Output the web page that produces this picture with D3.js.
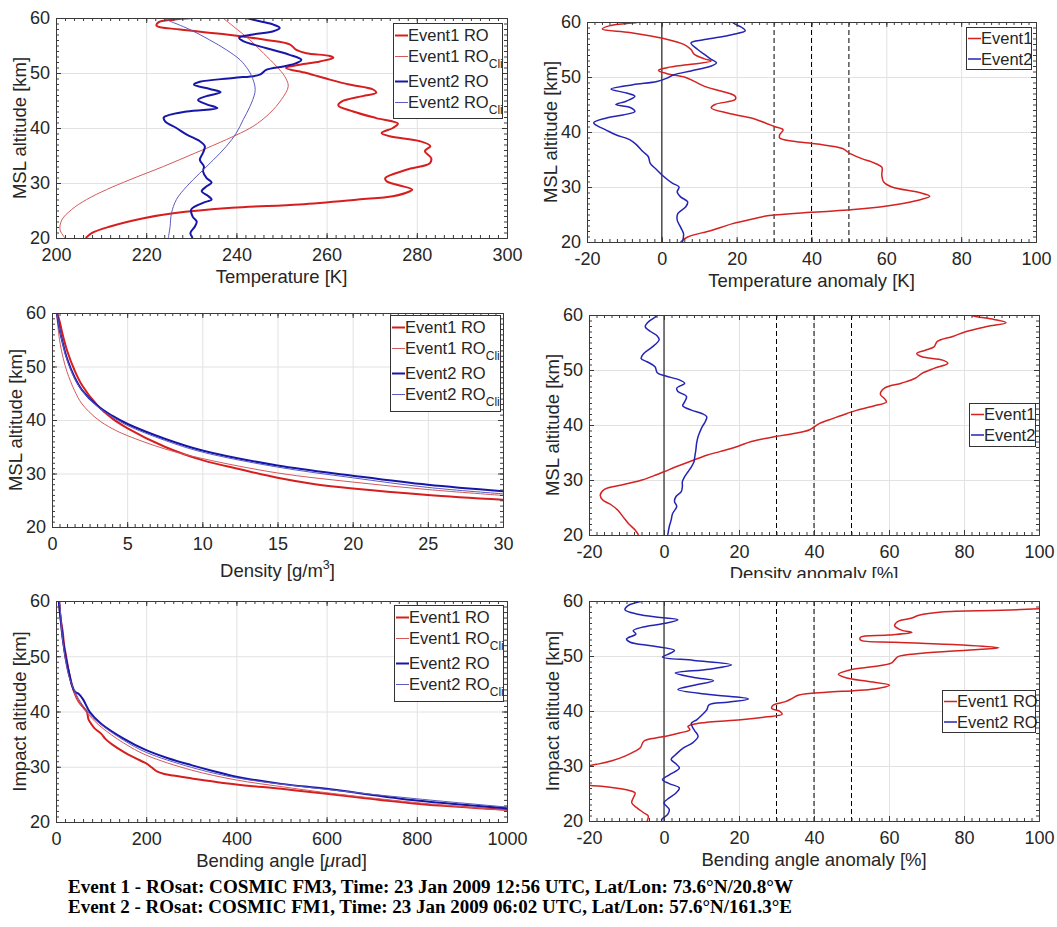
<!DOCTYPE html>
<html>
<head>
<meta charset="utf-8">
<script src="https://cdn.jsdelivr.net/npm/d3@7"></script>
<style>
body { margin: 0; background: #fff; }
svg { display: block; }
text { font-family: "Liberation Sans", Arial, Helvetica, sans-serif; fill: #262626; }
</style>
</head>
<body>
<svg id="fig" width="1057" height="927"></svg>
<script>
// ---------- data: [value, altitude km] ----------
var tempEv1Ro = [[206.6,20],[207.9,20.9],[212,22.1],[219.4,23.6],[226,24.5],[239,25.5],[254,26.1],[267,27],[274.7,27.6],[278.5,28.5],[279,28.8],[276,29.6],[273.3,30.3],[273,30.9],[277.7,32.4],[282.9,33.6],[283.2,34.5],[281.8,35.8],[283,36.7],[280.7,37.6],[274,38.5],[272.2,39.1],[274.7,40],[275.8,40.8],[271,41.8],[265.9,43],[262.6,44.1],[263.3,44.8],[268,45.8],[271,46.4],[270.3,47],[265,47.9],[260.7,48.8],[255.5,50],[251,50.9],[254,51.5],[258.5,52.1],[261.5,52.8],[260.7,53.1],[255.5,53.6],[253.3,54.2],[251.8,55.2],[246.7,56],[237.8,57],[227.5,57.9],[222.3,58.6],[222.7,59.2],[226,59.7],[230.4,60]];
var tempEv1Cli = [[202,20],[200.9,21.5],[201.3,23.3],[203.5,25.2],[206.8,27],[211.2,28.8],[216.4,30.6],[223.8,33],[231,35.5],[237.8,37.9],[243.7,40.3],[247.4,42.7],[250,45.2],[251.5,47.6],[250.7,49.4],[248.9,51.2],[246,53.6],[243,56],[239.3,58.5],[237,60]];
var tempEv2Ro = [[230.3,20],[229.8,20.9],[230.8,22.1],[231.2,23],[230.3,23.9],[230,25.2],[232.6,26.4],[234.5,27],[233.8,27.6],[232.3,28.5],[233.4,29.4],[234.5,30.1],[233.4,30.9],[232.6,32.1],[232.8,33],[231.9,34.2],[232.6,35.5],[233,36.7],[231.9,37.6],[229,38.8],[226.7,40],[224.2,41.2],[223.9,41.9],[229,43],[235.8,43.6],[233.4,44.3],[231.5,45.1],[233.4,45.8],[236.5,46.5],[234.1,47.1],[230.6,47.9],[231.9,48.4],[239.3,49.1],[245.2,49.7],[246.7,50.6],[250.4,51.2],[253.3,51.8],[254.4,52.4],[251.8,53.3],[246.7,54.5],[241.5,55.8],[240.6,56.4],[243.7,57],[248.2,57.6],[249.6,58.2],[248.2,58.8],[245.2,59.4],[242.2,60]];
var tempEv2Cli = [[224.9,20],[225.3,22.1],[225.6,24.5],[226.7,27],[229,29.4],[231.9,31.8],[234.9,34.2],[237.8,36.7],[240,39.1],[241.5,41.5],[243,43.9],[244.1,46.4],[244.1,47.6],[243.4,49.4],[242.6,50.6],[240.8,52.4],[237.8,54.2],[234.1,56],[229.7,57.9],[224.5,59.7],[223.8,60]];

var tAnomEv1 = [[5,20],[6.9,20.9],[13.2,22.1],[18.7,23.3],[24.2,24.2],[28.7,24.8],[39.7,25.4],[49.7,25.8],[60.6,26.6],[67.9,27.5],[71.6,28.3],[68.8,29],[61.5,30],[59.3,30.9],[58.8,32.1],[58.8,33.6],[57,34.3],[53.3,35.2],[50.2,36.1],[48.3,37],[41.5,37.8],[35.1,38.3],[31.5,38.9],[31.5,39.5],[32.4,40.4],[30.1,41],[27.8,41.6],[24.2,42.5],[17.8,43.4],[13.2,44.4],[14.2,45],[19.6,45.9],[19.6,46.5],[16,47.4],[11.4,48.3],[8.7,49.2],[6,50],[1.4,50.6],[-0.9,51.2],[1.4,51.7],[7.8,52.3],[13.2,52.9],[11.4,53.3],[8.7,54.1],[7.8,55],[6,55.9],[0.5,57],[-8.6,58.1],[-15.9,58.7],[-14.1,59.3],[-6.8,59.9],[-5.9,60]];
var tAnomEv2 = [[5.5,20],[5.8,21.5],[5,22.7],[4.1,24],[4.3,25.2],[6.4,26.4],[6.9,27.3],[5,28.2],[4.1,29.1],[4.6,30],[2.8,30.7],[0.5,31.9],[-1.3,33.1],[-3.1,34.3],[-3.6,35.5],[-5,36.4],[-6.8,37.7],[-8.6,38.6],[-12.3,39.5],[-15,40.4],[-17.7,41.3],[-18.2,41.7],[-15,42.5],[-10.4,43.1],[-7.2,43.7],[-8.6,44.5],[-12.3,45],[-9.5,45.6],[-7.2,46.5],[-9.5,47.1],[-13.6,47.8],[-7.7,48.6],[-1.3,49.2],[1.4,49.8],[3.2,50.4],[7.8,51.1],[13.2,52],[14.6,52.6],[13.2,53.2],[11.4,54.1],[9.6,55],[7.8,56.2],[11.4,56.8],[18.7,57.7],[22.3,58.4],[21.4,59],[19.6,59.6],[18.7,60]];

var densEv1Ro = [[0.35,60],[0.5,58.5],[0.75,55.5],[1,53],[1.5,49.3],[2,46.5],[3,42.8],[4,40.3],[5,38.5],[7.5,35],[10,32.5],[12.5,30.8],[15,29.2],[17.5,28],[20,27.2],[25,26],[30,25.1]];
var densEv1Cli = [[0.3,60],[0.5,55],[0.75,51.5],[1,49],[1.5,45.5],[2,43],[3,40.2],[4,38.4],[5,37.1],[7.5,34.6],[10,32.8],[15,30.1],[20,28.4],[25,27],[30,25.9]];
var densEv2Ro = [[0.33,60],[0.5,57],[0.75,54],[1,51.5],[1.5,48],[2,45.6],[3,42.7],[4,40.8],[5,39.3],[7.5,36.5],[10,34.3],[15,31.5],[20,29.6],[25,27.9],[30,26.7]];
var densEv2Cli = [[0.33,60],[0.5,57],[0.75,53.8],[1,51.2],[1.5,47.8],[2,45.5],[3,42.6],[4,40.6],[5,39],[7.5,36.2],[10,34],[15,31.2],[20,29.2],[25,27.4],[30,26.2]];

var dAnomEv1 = [[-6.8,20],[-7.7,20.9],[-9.5,22.1],[-10.9,23.3],[-12.3,24.5],[-14.1,25.5],[-16.4,26.4],[-17,27.3],[-15.9,28.3],[-11.3,29.1],[-5.9,30],[-2.2,30.9],[0,31.5],[3.2,32.4],[7.8,33.6],[11.4,34.5],[15.1,35.2],[19.6,36.1],[23.3,37],[29.7,37.9],[35.1,38.5],[38.7,39.1],[40.1,39.7],[41.5,40.3],[45.1,41.2],[48.8,42.1],[51.5,42.7],[56.1,43.5],[59.3,44.2],[58.8,44.8],[57.7,45.6],[58.8,46.7],[63.3,47.6],[67,48.5],[68.8,49.4],[72,50.3],[75.7,51.2],[74.3,51.8],[68.8,52.4],[67.4,53],[69.7,53.6],[72,54.2],[72.9,55.2],[77,56.1],[80.6,57],[86.1,57.9],[91.2,58.6],[88,59.2],[83.4,59.7],[81.6,60]];
var dAnomEv2 = [[1,20],[1.4,21.5],[1.9,22.7],[2.3,23.9],[3.4,25.2],[2.8,26.1],[3.2,27],[4.6,27.9],[4.9,28.8],[4.9,29.7],[5.5,30.6],[6.4,31.5],[7.3,32.4],[8,33.3],[8.2,34.2],[8.5,35.5],[8.7,36.7],[9.1,37.9],[9.6,38.8],[10.2,39.7],[11,40.6],[11.4,41.5],[10.1,42.1],[7.3,42.7],[5,43.5],[5.5,44.2],[6,45.2],[3.7,46.1],[3.4,46.7],[5.5,47.6],[4.1,48.2],[0.5,48.9],[-1.8,49.5],[-2.4,50.6],[-4.5,51.5],[-6.1,52.1],[-5.4,53],[-3.1,54.2],[-1.3,55.5],[-1.8,56.2],[-3.6,57],[-5,57.9],[-4.1,58.8],[-2.2,59.7],[-1.8,60]];

var bendEv1Ro = [[7,60],[10,57],[15,54.4],[18,52],[22,50.2],[30,46.6],[40,43.6],[50,41.8],[62,40.6],[68,40],[70,39.4],[72,38.6],[76,38],[85,37],[100,36],[110,35],[125,34],[150,32.7],[175,31.6],[200,30.6],[212,29.9],[225,29.1],[240,28.7],[260,28.4],[300,27.9],[400,26.8],[500,26],[600,25.1],[800,23.3],[1000,22.2]];
var bendEv1Cli = [[8,60],[10,57.5],[12,54.4],[16,52],[20,49.6],[30,46],[50,41.8],[75,39.2],[100,37.2],[150,34.3],[200,32.1],[300,29.4],[400,27.6],[500,26.4],[600,25.3],[800,23.5],[1000,22.1]];
var bendEv2Ro = [[6,60],[10,56.9],[15,53.2],[22,49.6],[30,46.6],[35,44.8],[42,43.6],[50,43.2],[60,42.2],[75,39.9],[100,37.8],[150,35.1],[200,33],[250,31.5],[300,30.3],[350,29.2],[400,28.2],[500,26.9],[600,26],[800,23.9],[1000,22.5]];
var bendEv2Cli = [[8,60],[10,58],[13,54.4],[18,51],[22,49],[30,46],[50,42.3],[75,39.5],[100,37.6],[150,34.8],[200,32.6],[300,29.9],[400,28],[600,25.9],[800,24.2],[1000,22.7]];

var bAnomEv1 = [[-4.5,20],[-4.2,20.9],[-5.4,21.5],[-7.2,22.4],[-8.6,23.3],[-8.2,24.2],[-7.7,25.1],[-9.5,25.6],[-15,26.2],[-20,26.5],[-24,27],[-27,28],[-26,29],[-22,29.8],[-18,30.3],[-14.1,30.9],[-10.4,31.8],[-7.7,32.7],[-6.3,33.3],[-5.4,34.5],[-2.2,35.1],[0.5,35.4],[4.1,36],[6.9,36.6],[6.4,37.2],[9.6,37.8],[20.5,38.4],[26.9,38.9],[31.5,39.4],[31,39.9],[28.7,40.5],[29.2,41.1],[32.4,41.7],[34.2,42.3],[36,42.9],[43.3,43.4],[50.6,43.7],[56,44],[60.1,44.7],[54.2,45.4],[48.8,46],[46.5,46.7],[49.7,47.5],[56,48.1],[60.6,48.7],[61.5,49.3],[62.4,49.9],[68.8,50.5],[81.6,51.1],[89.3,51.5],[79.8,52],[61.5,52.5],[52.4,52.9],[52.4,53.4],[59.7,53.8],[66.1,54.3],[63.3,54.7],[61.5,55.5],[62.4,56.3],[66.1,56.9],[68,57.4],[74,58],[90,58.3],[100,58.6],[110,59],[108,59.6],[91,60]];
var bAnomEv2 = [[-0.6,20],[-0.6,20.3],[1,21.2],[1.4,22.1],[0,23.3],[1.4,24.2],[3.2,25.1],[4.1,26],[1.4,26.8],[-0.4,27.5],[1.4,28.4],[4.1,29.6],[3.2,30.4],[1.9,31.2],[3,32],[5,33.2],[7.8,34.3],[9.1,35.4],[8.2,36.4],[7.5,37.2],[7.3,37.8],[8.7,38.4],[10,39.2],[11.4,40.2],[12,41.1],[17,41.6],[22.5,42.2],[12,43],[3.7,43.9],[8,44.7],[13.2,45.5],[8,46.1],[3,46.9],[12,47.6],[18,48.4],[8,49.2],[-0.4,49.8],[1,50.3],[2.8,51],[-3,51.8],[-9,52.5],[-10,53.1],[-7.5,54],[-8.2,54.6],[-6,55.2],[0,55.9],[3.7,56.6],[-1,57],[-7,57.6],[-10.4,58.4],[-9.5,59.2],[-5.4,60]];

var altTicks = [20, 30, 40, 50, 60];
var tempTicks = [200, 220, 240, 260, 280, 300];
var anomTicks = [-20, 0, 20, 40, 60, 80, 100];
var densTicks = [0, 5, 10, 15, 20, 25, 30];
var bendTicks = [0, 200, 400, 600, 800, 1000];
var anomRefLines = [30, 40, 50];

var profileNames = ['Event1 RO', 'Event1 RO', 'Event2 RO', 'Event2 RO'];
var profileSubs = ['', 'Cli', '', 'Cli'];
var anomNames = ['Event1', 'Event2'];
var bendAnomNames = ['Event1 RO', 'Event2 RO'];

var footerLines = [
  'Event 1 - ROsat: COSMIC FM3, Time: 23 Jan 2009 12:56 UTC, Lat/Lon: 73.6\u00B0N/20.8\u00B0W',
  'Event 2 - ROsat: COSMIC FM1, Time: 23 Jan 2009 06:02 UTC, Lat/Lon: 57.6\u00B0N/161.3\u00B0E'
];

//colors
var red = '#d71e1e';
var redCli = '#d4595c';
var blue = '#1616a8';
var blueCli = '#5b5bc0';
var redAn = '#d42222';
var blueAn = '#2424b4';
var ink = '#262626';

var svg = d3.select('#fig');

var off4 = [12.5, 33.5, 58.5, 79.5];
var off2 = [11.5, 32];

var panels = [
  { x0: 56, x1: 507, y0: 18, y1: 238, xDomain: [200, 300], xTicks: tempTicks, xMinor: 2,
    xLabel: 'temp', yLabel: 'MSL altitude [km]', labelDy: 45,
    series: [[tempEv1Ro, red, 2], [tempEv1Cli, redCli, 1], [tempEv2Ro, blue, 2], [tempEv2Cli, blueCli, 1]],
    legend: { x: 393, y: 23, w: 109, h: 95, names: profileNames, subs: profileSubs, offs: off4 } },
  { x0: 587, x1: 1036, y0: 22, y1: 242, xDomain: [-20, 100], xTicks: anomTicks, xMinor: 2, ref: true,
    xLabel: 'tanom', yLabel: 'MSL altitude [km]', labelDy: 45,
    series: [[tAnomEv1, redAn, 1.5], [tAnomEv2, blueAn, 1.5]],
    legend: { x: 966, y: 27, w: 65, h: 42, names: anomNames, offs: off2 } },
  { x0: 52, x1: 503, y0: 313, y1: 527, xDomain: [0, 30], xTicks: densTicks, xMinor: 0.5,
    xLabel: 'dens', yLabel: 'MSL altitude [km]', labelDy: 50,
    series: [[densEv1Ro, red, 2], [densEv1Cli, redCli, 1], [densEv2Ro, blue, 2], [densEv2Cli, blueCli, 1]],
    legend: { x: 390, y: 315, w: 110, h: 96, names: profileNames, subs: profileSubs, offs: off4 } },
  { x0: 589, x1: 1039, y0: 315, y1: 535, xDomain: [-20, 100], xTicks: anomTicks, xMinor: 2, ref: true,
    xLabel: 'danom', yLabel: 'MSL altitude [km]', labelDy: 45, cutLabel: 578,
    series: [[dAnomEv1, redAn, 1.5], [dAnomEv2, blueAn, 1.5]],
    legend: { x: 969, y: 403, w: 66, h: 43, names: anomNames, offs: off2 } },
  { x0: 56, x1: 507, y0: 601, y1: 822, xDomain: [0, 1000], xTicks: bendTicks, xMinor: 20,
    xLabel: 'bend', yLabel: 'Impact altitude [km]', labelDy: 45,
    series: [[bendEv1Ro, red, 2], [bendEv1Cli, redCli, 1], [bendEv2Ro, blue, 2], [bendEv2Cli, blueCli, 1]],
    legend: { x: 394, y: 605, w: 109, h: 96, names: profileNames, subs: profileSubs, offs: off4 } },
  { x0: 589, x1: 1039, y0: 601, y1: 821, xDomain: [-20, 100], xTicks: anomTicks, xMinor: 2, ref: true,
    xLabel: 'banom', yLabel: 'Impact altitude [km]', labelDy: 45,
    series: [[bAnomEv1, redAn, 1.5], [bAnomEv2, blueAn, 1.5]],
    legend: { x: 942, y: 690, w: 93, h: 42, names: bendAnomNames, offs: off2 } }
];

function plainNum(d) { return String(d); }

function styleAxis(sel) {
  sel.select('.domain').attr('stroke', '#3a3a3a');
  sel.selectAll('.tick line').attr('stroke', '#3a3a3a');
  sel.selectAll('text').attr('font-size', 18).attr('fill', ink)
    .attr('font-family', '"Liberation Sans", Arial, sans-serif');
}

function writeXLabel(t, kind) {
  if (kind == 'temp') t.text('Temperature [K]');
  if (kind == 'tanom') t.text('Temperature anomaly [K]');
  if (kind == 'danom') t.text('Density anomaly [%]');
  if (kind == 'banom') t.text('Bending angle anomaly [%]');
  if (kind == 'dens') {
    t.append('tspan').text('Density [g/m');
    t.append('tspan').attr('font-size', 12.5).attr('dy', -8).text('3');
    t.append('tspan').attr('dy', 8).text(']');
  }
  if (kind == 'bend') {
    t.append('tspan').text('Bending angle [');
    t.append('tspan').attr('font-style', 'italic').text('\u03BC');
    t.append('tspan').text('rad]');
  }
}

function drawPanel(p, i) {
  var x = d3.scaleLinear().domain(p.xDomain).range([p.x0, p.x1]);
  var y = d3.scaleLinear().domain([20, 60]).range([p.y1, p.y0]);
  var w = p.x1 - p.x0, h = p.y1 - p.y0;
  var g = svg.append('g');

  g.append('rect').attr('x', p.x0).attr('y', p.y0).attr('width', w).attr('height', h).attr('fill', '#fff');

  // grid
  g.append('g').attr('transform', 'translate(0,' + p.y1 + ')')
    .call(d3.axisBottom(x).tickValues(p.xTicks).tickSize(-h).tickFormat(''))
    .call(function(s) { s.select('.domain').remove(); })
    .selectAll('line').attr('stroke', '#e2e2e2');
  g.append('g').attr('transform', 'translate(' + p.x0 + ',0)')
    .call(d3.axisLeft(y).tickValues(altTicks).tickSize(-w).tickFormat(''))
    .call(function(s) { s.select('.domain').remove(); })
    .selectAll('line').attr('stroke', '#e2e2e2');

  svg.append('clipPath').attr('id', 'clip' + i)
    .append('rect').attr('x', p.x0).attr('y', p.y0).attr('width', w).attr('height', h);
  var plot = g.append('g').attr('clip-path', 'url(#clip' + i + ')');

  if (p.ref) {
    plot.append('line').attr('x1', x(0)).attr('x2', x(0)).attr('y1', p.y0).attr('y2', p.y1)
      .attr('stroke', '#000').attr('stroke-width', 1);
    plot.selectAll('.ref').data(anomRefLines).enter().append('line')
      .attr('x1', function(d) { return x(d); }).attr('x2', function(d) { return x(d); })
      .attr('y1', p.y0).attr('y2', p.y1)
      .attr('stroke', '#000').attr('stroke-width', 1).attr('stroke-dasharray', '5,3');
  }

  var line = d3.line()
    .x(function(d) { return x(d[0]); })
    .y(function(d) { return y(d[1]); })
    .curve(d3.curveCatmullRom.alpha(0.5));

  p.series.forEach(function(s) {
    plot.append('path').datum(s[0]).attr('d', line)
      .attr('fill', 'none').attr('stroke', s[1]).attr('stroke-width', s[2])
      .attr('stroke-linejoin', 'round');
  });

  // axes, ticks pointing inward on all four sides
  var minorX = d3.range(p.xDomain[0], p.xDomain[1] + 1e-9, p.xMinor);
  var minorY = d3.range(20, 60.001, 1);
  g.append('g').attr('transform', 'translate(0,' + p.y1 + ')')
    .call(d3.axisBottom(x).tickValues(minorX).tickSize(-3).tickSizeOuter(0).tickFormat('')).call(styleAxis);
  g.append('g').attr('transform', 'translate(0,' + p.y1 + ')')
    .call(d3.axisBottom(x).tickValues(p.xTicks).tickSize(-5).tickSizeOuter(0).tickPadding(10).tickFormat(plainNum)).call(styleAxis);
  g.append('g').attr('transform', 'translate(0,' + p.y0 + ')')
    .call(d3.axisTop(x).tickValues(minorX).tickSize(-3).tickSizeOuter(0).tickFormat('')).call(styleAxis);
  g.append('g').attr('transform', 'translate(0,' + p.y0 + ')')
    .call(d3.axisTop(x).tickValues(p.xTicks).tickSize(-5).tickSizeOuter(0).tickFormat('')).call(styleAxis);
  g.append('g').attr('transform', 'translate(' + p.x0 + ',0)')
    .call(d3.axisLeft(y).tickValues(minorY).tickSize(-3).tickSizeOuter(0).tickFormat('')).call(styleAxis);
  g.append('g').attr('transform', 'translate(' + p.x0 + ',0)')
    .call(d3.axisLeft(y).tickValues(altTicks).tickSize(-5).tickSizeOuter(0).tickPadding(6).tickFormat(plainNum)).call(styleAxis);
  g.append('g').attr('transform', 'translate(' + p.x1 + ',0)')
    .call(d3.axisRight(y).tickValues(minorY).tickSize(-3).tickSizeOuter(0).tickFormat('')).call(styleAxis);
  g.append('g').attr('transform', 'translate(' + p.x1 + ',0)')
    .call(d3.axisRight(y).tickValues(altTicks).tickSize(-5).tickSizeOuter(0).tickFormat('')).call(styleAxis);

  // axis labels
  var xl = g.append('text').attr('x', (p.x0 + p.x1) / 2).attr('y', p.y1 + p.labelDy)
    .attr('text-anchor', 'middle').attr('font-size', 18.5).attr('fill', ink);
  writeXLabel(xl, p.xLabel);
  if (p.cutLabel) {
    svg.append('clipPath').attr('id', 'cut' + i)
      .append('rect').attr('x', 0).attr('y', 0).attr('width', 1057).attr('height', p.cutLabel);
    xl.attr('clip-path', 'url(#cut' + i + ')');
  }
  g.append('text')
    .attr('transform', 'translate(' + (p.x0 - 30) + ',' + ((p.y0 + p.y1) / 2) + ') rotate(-90)')
    .attr('text-anchor', 'middle').attr('font-size', 18.5).attr('fill', ink).text(p.yLabel);

  // legend
  var L = p.legend;
  var lg = g.append('g');
  lg.append('rect').attr('x', L.x + 0.5).attr('y', L.y + 0.5).attr('width', L.w).attr('height', L.h)
    .attr('fill', '#fff').attr('stroke', '#333').attr('stroke-width', 1);
  L.names.forEach(function(name, k) {
    var cy = L.y + L.offs[k];
    var s = p.series[k];
    lg.append('line').attr('x1', L.x + 2).attr('x2', L.x + 15).attr('y1', cy).attr('y2', cy)
      .attr('stroke', s[1]).attr('stroke-width', s[2]);
    var t = lg.append('text').attr('x', L.x + 15).attr('y', cy).attr('dy', '0.36em')
      .attr('font-size', 16.5).attr('fill', ink).text(name);
    if (L.subs && L.subs[k]) {
      t.append('tspan').attr('dy', 6).attr('font-size', 12).attr('fill', ink).text(L.subs[k]);
    }
  });
}

panels.forEach(drawPanel);

// footer
svg.selectAll('.foot').data(footerLines).enter().append('text')
  .attr('class', 'foot')
  .attr('x', 68)
  .attr('y', function(d, i) { return 893 + i * 20; })
  .attr('font-weight', 'bold')
  .attr('font-size', 18.5)
  .attr('textLength', function(d, i) { return i == 0 ? 725 : 724; })
  .attr('lengthAdjust', 'spacingAndGlyphs')
  .style('font-family', '"Liberation Serif", "Times New Roman", serif')
  .style('fill', '#000')
  .text(function(d) { return d; });
</script>
</body>
</html>
